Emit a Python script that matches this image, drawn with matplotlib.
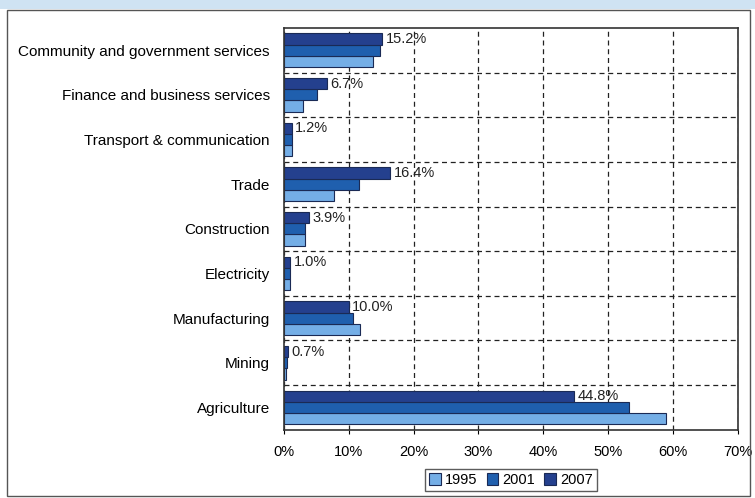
import numpy as np
import matplotlib.pyplot as plt
from matplotlib.patches import Rectangle

plt.rcParams['font.family'] = ['Liberation Sans', 'DejaVu Sans']

sectors = ['Community and government services', 'Finance and business services',
           'Transport & communication', 'Trade', 'Construction', 'Electricity',
           'Manufacturing', 'Mining', 'Agriculture']
share_1995 = [13.7, 2.9, 1.3, 7.8, 3.3, 0.9, 11.8, 0.4, 58.9]
share_2001 = [14.8, 5.1, 1.3, 11.6, 3.2, 1.0, 10.6, 0.5, 53.2]
share_2007 = [15.2, 6.7, 1.2, 16.4, 3.9, 1.0, 10.0, 0.7, 44.8]
xticks = [0, 10, 20, 30, 40, 50, 60, 70]

fig = plt.figure(figsize=(7.55, 4.98), dpi=100)
ax = fig.add_axes([0.376, 0.137, 0.601, 0.807])

# frame around the whole chart
fig.patches.append(Rectangle((0.009, 0.005), 0.985, 0.975, transform=fig.transFigure,
                             fill=False, edgecolor='#555555', lw=1.0))
fig.patches.append(Rectangle((0, 0.982), 1, 0.018, transform=fig.transFigure,
                             facecolor='#cfe3f3', edgecolor='none'))

y = np.arange(len(sectors))[::-1]
h = 0.25
ax.barh(y - h, share_1995, height=h, color='#74aee6', edgecolor='#1a2a55', lw=0.8, label='1995')
ax.barh(y, share_2001, height=h, color='#1f5fae', edgecolor='#1a2a55', lw=0.8, label='2001')
ax.barh(y + h, share_2007, height=h, color='#24408e', edgecolor='#1a2a55', lw=0.8, label='2007')

for yi, v in zip(y, share_2007):
    ax.text(v + 0.5, yi + h, f'{v:.1f}%', va='center', ha='left', fontsize=10.5, color='#222222')

ax.set_xlim(0, 70)
ax.set_ylim(-0.5, len(sectors) - 0.5)
ax.set_xticks(xticks)
ax.set_xticklabels([f'{t}%' for t in xticks], fontsize=10.5)
ax.set_yticks(y)
ax.set_yticklabels(sectors, fontsize=11)
ax.tick_params(axis='y', length=0, pad=10)
ax.tick_params(axis='x', length=3, pad=8)

ax.grid(axis='x', color='#222222', ls=(0, (4, 3)), lw=0.9)
for b in np.arange(0.5, len(sectors) - 0.5):
    ax.axhline(b, color='#222222', ls=(0, (4, 3)), lw=0.9)
ax.set_axisbelow(True)
for s in ax.spines.values():
    s.set_color('#333333')
    s.set_linewidth(1.2)

handles, labels = ax.get_legend_handles_labels()
leg = fig.legend(handles, labels, loc='center', bbox_to_anchor=(0.677, 0.036), ncol=3,
                 fontsize=10.5, frameon=True, fancybox=False, edgecolor='#333333',
                 handlelength=0.8, handleheight=0.8, handletextpad=0.3,
                 columnspacing=0.6, borderpad=0.3)

fig.savefig('out.png', dpi=100)
